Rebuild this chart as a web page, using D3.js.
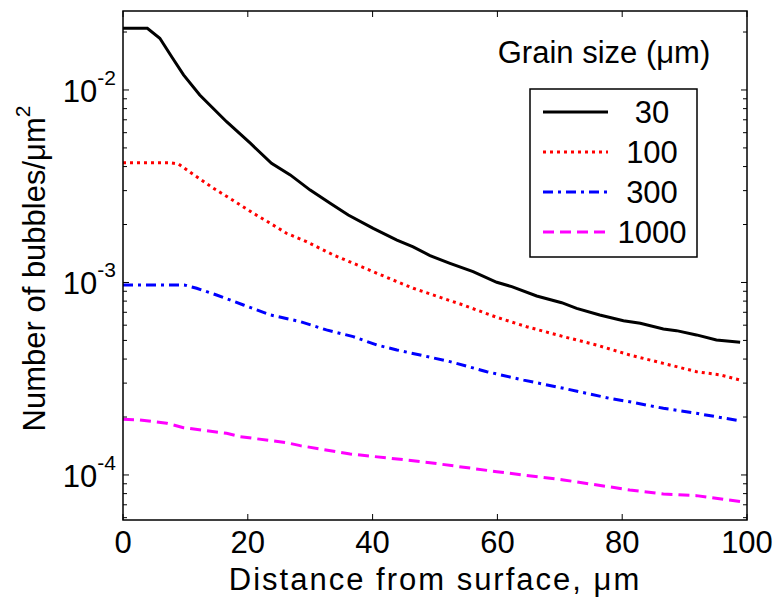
<!DOCTYPE html>
<html>
<head>
<meta charset="utf-8">
<script src="https://cdn.jsdelivr.net/npm/d3@7"></script>
<style>
  body { margin: 0; background: #fff; }
  text { font-family: "Liberation Sans", Arial, sans-serif; fill: #000; }
</style>
</head>
<body>
<script>
var width = 776
var height = 597

// grain sizes (legend) and line styles
var grainSizes = ["30", "100", "300", "1000"]
var colors = ["#000000", "#ff0000", "#0000ff", "#ff00ff"]
var dashes = [null, "3,4", "10,5,3,5", "11,6"]

// distance from surface (um) and bubbles/um^2
var dist30 = [0, 3.9, 5.9, 7.8, 9.7, 12.3, 16.6, 20.4, 23.8, 26.8, 30, 33.2, 36.1, 40.1, 43.9, 46.5, 49.2, 52.4, 56.1, 59.9, 62.3, 66.3, 70.3, 72.7, 76.4, 80.2, 82.9, 86.6, 88.7, 91.9, 95.1, 98.9]
var val30 = [0.02092, 0.02092, 0.01856, 0.01489, 0.01197, 0.00942, 0.00684, 0.00529, 0.00416, 0.00362, 0.00302, 0.00258, 0.00224, 0.00191, 0.00166, 0.00153, 0.00138, 0.001258, 0.001138, 0.001002, 0.000951, 0.000851, 0.000785, 0.000734, 0.000678, 0.000633, 0.000614, 0.000573, 0.000562, 0.000534, 0.000503, 0.000489]

var dist100 = [0, 7.5, 8.9, 11, 14.5, 17.1, 20.9, 23.6, 26.2, 29.4, 33.7, 36.9, 40.1, 43.9, 46.5, 50.5, 54.5, 59.9, 64.7, 70.6, 75.9, 81.2, 86.6, 91.9, 95.7, 98.9]
var val100 = [0.004192, 0.004192, 0.004127, 0.003692, 0.003086, 0.002738, 0.002288, 0.00203, 0.001801, 0.001629, 0.00139, 0.001258, 0.001138, 0.00101, 0.000933, 0.000844, 0.000764, 0.000659, 0.000589, 0.000523, 0.000473, 0.00042, 0.00038, 0.000344, 0.000331, 0.000311]

var dist300 = [0, 9.8, 11.8, 15, 19.3, 23.6, 28.4, 32.6, 36.9, 40.7, 43.9, 49.2, 52.4, 58.3, 64.2, 70.6, 78, 81.2, 86.6, 91.9, 98.9]
var val300 = [0.000971, 0.000971, 0.000933, 0.000861, 0.000764, 0.000678, 0.000626, 0.000567, 0.000523, 0.000473, 0.000446, 0.000409, 0.000388, 0.000344, 0.000311, 0.000282, 0.00025, 0.00024, 0.000222, 0.000209, 0.000191]

var dist1000 = [0, 2.7, 7, 9.7, 16.6, 18.8, 26.2, 28.4, 36.4, 44.4, 49.2, 59.9, 70.6, 81.2, 86.6, 91.9, 98.9]
var val1000 = [0.0001947, 0.0001931, 0.0001856, 0.000176, 0.0001646, 0.0001581, 0.0001472, 0.000142, 0.0001285, 0.0001206, 0.0001158, 0.000104, 0.0000942, 0.0000836, 0.0000797, 0.0000781, 0.0000727]

var xTicks = [0, 20, 40, 60, 80, 100]
var yMajor = [1e-4, 1e-3, 1e-2]
var yLabels = ["-4", "-3", "-2"]

var series = [
  { x: dist30, y: val30 },
  { x: dist100, y: val100 },
  { x: dist300, y: val300 },
  { x: dist1000, y: val1000 }
]

// plot box (note: "top" is reserved on window, so use other names)
var pL = 123, pR = 747, pT = 11, pB = 520
var fs = 31

var x = d3.scaleLinear().domain([0, 100]).range([pL, pR])
var y = d3.scaleLog().domain([5.835e-5, 0.02572]).range([pB, pT])

var svg = d3.select("body").append("svg")
  .attr("width", width).attr("height", height)

// minor log ticks
var minor = []
for (var e = -5; e <= -2; e++) {
  for (var m = 2; m <= 9; m++) {
    var v = m * Math.pow(10, e)
    if (v >= y.domain()[0] && v <= y.domain()[1]) minor.push(v)
  }
}

var ticks = svg.append("g").attr("stroke", "#000").attr("stroke-width", 1)

ticks.selectAll(".xt").data(xTicks).join("path")
  .attr("d", d => "M" + x(d) + "," + pB + "v-6M" + x(d) + "," + pT + "v6")

ticks.selectAll(".ym").data(yMajor).join("path")
  .attr("d", d => "M" + pL + "," + y(d) + "h6M" + pR + "," + y(d) + "h-6")

ticks.selectAll(".yn").data(minor).join("path")
  .attr("d", d => "M" + pL + "," + y(d) + "h4M" + pR + "," + y(d) + "h-4")

// curves
var line = d3.line().x(d => x(d[0])).y(d => y(d[1]))

svg.append("g").selectAll("path").data(series).join("path")
  .attr("fill", "none")
  .attr("stroke", (d, i) => colors[i])
  .attr("stroke-width", 3)
  .attr("stroke-dasharray", (d, i) => dashes[i])
  .attr("d", d => line(d.x.map((v, j) => [v, d.y[j]])))

// frame
svg.append("rect")
  .attr("x", pL).attr("y", pT)
  .attr("width", pR - pL).attr("height", pB - pT)
  .attr("fill", "none").attr("stroke", "#000").attr("stroke-width", 1.5)

// x tick labels
svg.selectAll(".xl").data(xTicks).join("text")
  .attr("x", d => x(d)).attr("y", 553)
  .attr("text-anchor", "middle").attr("font-size", fs)
  .text(d => d)

// y tick labels 10^n
var yl = svg.selectAll(".yl").data(yMajor).join("text")
  .attr("x", 116).attr("y", d => y(d) + 12)
  .attr("text-anchor", "end").attr("font-size", fs)
yl.append("tspan").text("10")
yl.append("tspan").attr("dy", -17).attr("font-size", 21).text((d, i) => yLabels[i])

// axis labels
svg.append("text")
  .attr("x", (pL + pR) / 2).attr("y", 590)
  .attr("text-anchor", "middle").attr("font-size", fs)
  .attr("letter-spacing", 2)
  .text("Distance from surface, \u03bcm")

var ylab = svg.append("text")
  .attr("transform", "translate(45," + ((pT + pB) / 2 + 3) + ") rotate(-90)")
  .attr("text-anchor", "middle").attr("font-size", fs)
ylab.append("tspan").text("Number of bubbles/\u03bcm")
ylab.append("tspan").attr("dy", -15).attr("font-size", 21).text("2")

// legend
svg.append("text")
  .attr("x", 604).attr("y", 63)
  .attr("text-anchor", "middle").attr("font-size", fs)
  .text("Grain size (\u03bcm)")

svg.append("rect")
  .attr("x", 530).attr("y", 89).attr("width", 167).attr("height", 168)
  .attr("fill", "#fff").attr("stroke", "#000").attr("stroke-width", 1.5)

var entries = svg.append("g").selectAll("g").data(grainSizes).join("g")
  .attr("transform", (d, i) => "translate(0," + (112 + i * 40) + ")")

entries.append("line")
  .attr("x1", 543).attr("x2", 608)
  .attr("stroke", (d, i) => colors[i])
  .attr("stroke-width", 3)
  .attr("stroke-dasharray", (d, i) => dashes[i])

entries.append("text")
  .attr("x", 652).attr("y", 11)
  .attr("text-anchor", "middle").attr("font-size", fs)
  .text(d => d)
</script>
</body>
</html>
